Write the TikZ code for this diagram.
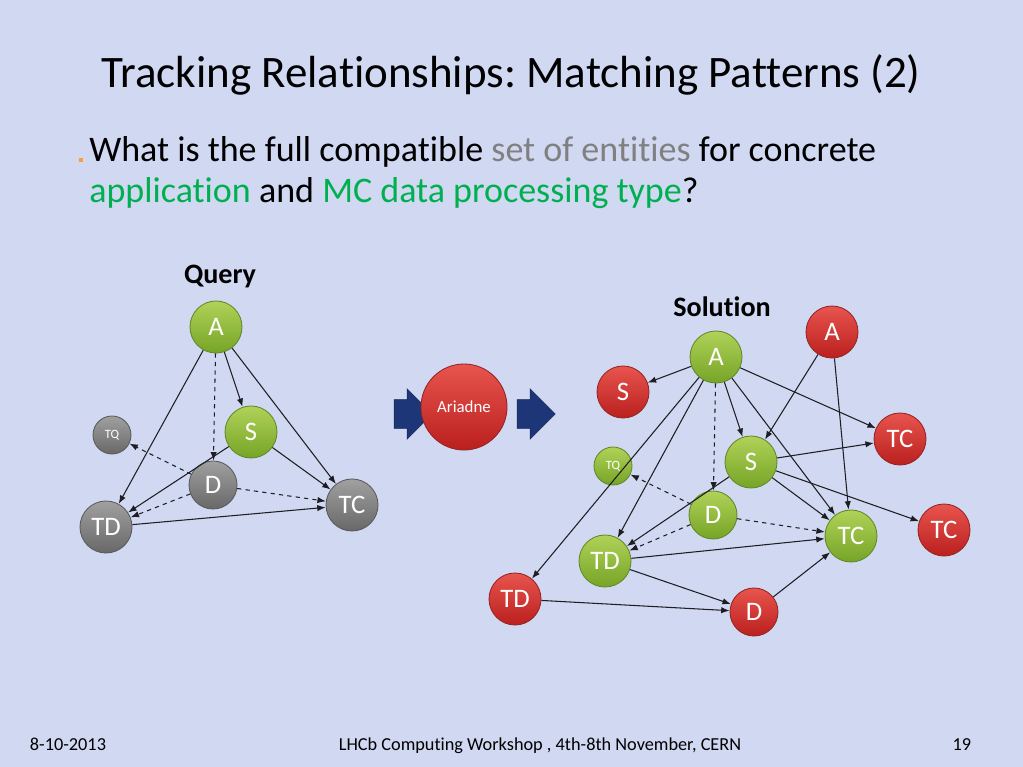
\documentclass[tikz,border=0pt]{standalone}
\usepackage{fontspec}
\setmainfont{Carlito}[Ligatures={NoCommon,NoRequired,NoContextual}]
\usepackage{tikz}
\usetikzlibrary{arrows.meta,shapes.arrows}
\frenchspacing

\definecolor{slidebg}{RGB}{208,216,242}
\definecolor{keygreen}{RGB}{0,176,80}
\definecolor{keygray}{RGB}{128,128,128}
\definecolor{arrowblue}{RGB}{28,54,120}
\definecolor{bulletorange}{RGB}{242,160,60}
\definecolor{greenhi}{RGB}{176,210,88}
\definecolor{greenlo}{RGB}{118,164,38}
\definecolor{greenrim}{RGB}{98,136,40}
\definecolor{redhi}{RGB}{232,84,78}
\definecolor{redlo}{RGB}{186,32,30}
\definecolor{redrim}{RGB}{150,36,34}
\definecolor{grayhi}{RGB}{160,160,160}
\definecolor{graylo}{RGB}{104,104,104}
\definecolor{grayrim}{RGB}{90,90,90}
\definecolor{edgegray}{RGB}{30,30,34}

\begin{document}
\begin{tikzpicture}[
    x=0.025cm, y=-0.025cm,
    ball/.style={circle, inner sep=0pt, minimum size=1.3cm, text=white, line width=0.6pt, font=\fontsize{19}{21}\selectfont},
    greenball/.style={ball, top color=greenhi, bottom color=greenlo, draw=greenrim},
    redball/.style={ball, top color=redhi, bottom color=redlo, draw=redrim},
    grayball/.style={ball, top color=grayhi, bottom color=graylo, draw=grayrim},
    smallball/.style={minimum size=0.95cm, font=\fontsize{9}{10}\selectfont},
    midball/.style={minimum size=1.2cm},
    blockarrow/.style={single arrow, fill=arrowblue, draw=arrowblue!70!black, inner xsep=0pt, inner ysep=0.35cm, minimum height=0.95cm, single arrow head extend=0.27cm, single arrow head indent=0pt},
    arrow/.style={-{Latex[length=6pt,width=4.5pt]}, edgegray, line width=0.75pt},
    dashedarrow/.style={-{Latex[length=6pt,width=4.5pt]}, edgegray, line width=0.75pt, dashed},
    titletext/.style={font=\fontsize{32}{38}\selectfont},
    bodytext/.style={font=\fontsize{25.6}{30}\selectfont, anchor=base west, inner sep=0pt},
    headtext/.style={font=\bfseries\fontsize{20}{24}\selectfont},
    foottext/.style={font=\fontsize{13}{15}\selectfont, anchor=base}
]
\useasboundingbox (0,0) rectangle (1023,767);
\fill[slidebg] (0,0) rectangle (1023,767);

\node[titletext] (title) at (511,75) {Tracking Relationships: Matching Patterns (2)};
\node[fill=bulletorange, inner sep=0pt, minimum size=0.1cm] (bullet) at (81,160) {};
\node[bodytext] (line1) at (89,162) {What is the full compatible \textcolor{keygray}{set of entities} for concrete};
\node[bodytext] (line2) at (89,203) {\textcolor{keygreen}{application} and \textcolor{keygreen}{MC data processing type}?};

% query pattern
\node[headtext] (query) at (220,276) {Query};
\node[greenball] (qa) at (216,327) {A};
\node[greenball] (qs) at (251,432) {S};
\node[grayball, smallball] (qtq) at (112,435) {TQ};
\node[grayball, midball] (qd) at (213,485) {D};
\node[grayball] (qtc) at (352,505) {TC};
\node[grayball] (qtd) at (106,527) {TD};

\draw[arrow] (qa) -- (qtd);
\draw[dashedarrow] (qa) -- (qd);
\draw[arrow] (qa) -- (qs);
\draw[arrow] (qa) -- (qtc);
\draw[arrow] (qs) -- (qtc);
\draw[arrow] (qs) -- (qtd);
\draw[dashedarrow] (qd) -- (qtq);
\draw[dashedarrow] (qd) -- (qtd);
\draw[dashedarrow] (qd) -- (qtc);
\draw[arrow] (qtd) -- (qtc);

% matcher
\node[blockarrow] (inarrow) at (406,414) {};
\node[redball, minimum size=2.15cm, font=\fontsize{12}{14}\selectfont] (ariadne) at (464,407) {Ariadne};
\node[blockarrow] (outarrow) at (529,414) {};

% solution graph
\node[headtext] (solution) at (722,307) {Solution};
\node[greenball] (sa) at (716,357) {A};
\node[redball] (sar) at (832,332) {A};
\node[redball] (ssr) at (623,392) {S};
\node[greenball] (ss) at (751,462) {S};
\node[greenball, smallball] (stq) at (613,466) {TQ};
\node[greenball, midball] (sd) at (713,515) {D};
\node[greenball] (std) at (605,561) {TD};
\node[redball] (stdr) at (515,599) {TD};
\node[redball, midball] (sdr) at (754,612) {D};
\node[greenball] (stc) at (851,536) {TC};
\node[redball] (stcup) at (900,439) {TC};
\node[redball] (stclow) at (944,530) {TC};

\draw[arrow] (sa) -- (ssr);
\draw[arrow] (sa) -- (stdr);
\draw[arrow] (sa) -- (std);
\draw[dashedarrow] (sa) -- (sd);
\draw[arrow] (sa) -- (ss);
\draw[arrow] (sa) -- (stc);
\draw[arrow] (sa) -- (stcup);
\draw[arrow] (sar) -- (ss);
\draw[arrow] (sar) -- (stc);
\draw[arrow] (ss) -- (stcup);
\draw[arrow] (ss) -- (stc);
\draw[arrow] (ss) -- (stclow);
\draw[arrow] (ss) -- (std);
\draw[dashedarrow] (sd) -- (stq);
\draw[dashedarrow] (sd) -- (std);
\draw[dashedarrow] (sd) -- (stc);
\draw[arrow] (std) -- (stc);
\draw[arrow] (std) -- (sdr);
\draw[arrow] (stdr) -- (sdr);
\draw[arrow] (sdr) -- (stc);

% footer
\node[foottext, anchor=base west] (date) at (25,750) {8-10-2013};
\node[foottext] (event) at (540,750) {LHCb Computing Workshop , 4th-8th November, CERN};
\node[foottext, anchor=base east] (page) at (976,750) {19};
\end{tikzpicture}
\end{document}
